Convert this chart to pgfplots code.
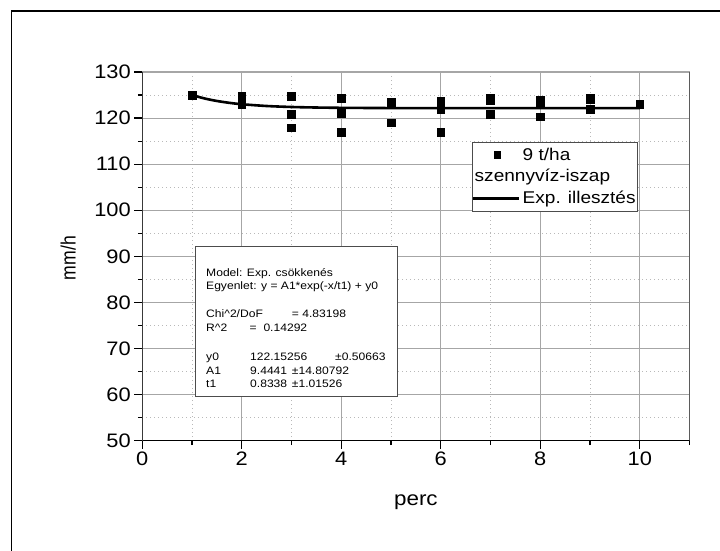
\documentclass[border=0pt]{standalone}
\usepackage{pgfplots}
\pgfplotsset{compat=1.18}
\usepackage{fontspec}
\usepackage{graphicx}
\setmainfont[FakeStretch=1.12]{Liberation Sans}
\newfontfamily\ylabfont{Liberation Sans}
\pgfplotsset{
  marklegend/.style={legend image code/.code={\draw[mark repeat=2,mark phase=2,mark size=3.4pt,##1] plot coordinates {(0pt,0pt) (22pt,0pt) (44pt,0pt)};}},
  linelegend/.style={legend image code/.code={\draw[##1] (-2pt,0pt) -- (44pt,0pt);}}
}

\begin{document}
\begin{tikzpicture}[x=1pt,y=1pt]
\useasboundingbox (0,0) rectangle (720,-551);
\fill[white] (0,0) rectangle (720,-551);
\draw[line width=1.5pt] (11.7,-551) -- (11.7,-11) -- (720,-11);
\begin{axis}[
  at={(142.3pt,-440.7pt)}, anchor=south west,
  scale only axis, width=547.2pt, height=368.7pt,
  xmin=0, xmax=11, ymin=50, ymax=130,
  xtick={0,2,4,6,8,10}, minor xtick={1,3,5,7,9,11},
  ytick={50,60,...,130}, minor ytick={55,65,...,125},
  grid=both,
  major grid style={gray!70, line width=1pt},
  minor grid style={gray!55, line width=0.9pt, dash pattern=on 1pt off 3pt},
  axis line style={gray!70, line width=1.2pt},
  tick align=outside, xtick pos=left, ytick pos=left,
  major tick length=8pt, minor tick length=4.5pt,
  tick style={black, line width=1.2pt},
  tick label style={font=\fontsize{19.5}{21}\selectfont},
  /pgf/number format/assume math mode=true,
  xlabel={perc},
  xlabel style={font=\fontsize{20}{22}\selectfont, at={(axis description cs:0.5,-0.166)}, anchor=center},
  legend style={at={(axis cs:6.62,114.88)}, anchor=north west,
    draw=gray!60!black, line width=1pt, fill=white,
    font=\fontsize{17}{19}\selectfont,
    inner xsep=0pt, inner ysep=5pt, row sep=5.7pt, column sep=0pt,
    nodes={inner xsep=2pt, inner ysep=0pt, text height=13pt, text depth=3pt},
    column 2/.style={nodes={text width=124pt}}},
  legend cell align=left,
]
\addplot[only marks, mark=square*, mark size=3.9pt, black, marklegend]
  coordinates {(1,124.9) (2,124.8) (2,123.0) (3,124.8) (3,120.9) (3,117.9)
    (4,124.3) (4,121.0) (4,117.0) (5,123.5) (5,123.1) (5,119.0)
    (6,123.7) (6,122.0) (6,117.0) (7,124.3) (7,123.9) (7,120.9)
    (8,123.9) (8,123.4) (8,120.3) (9,124.4) (9,124.0) (9,122.0) (10,123.1)};
\addlegendentry{9 t/ha}
\addlegendimage{empty legend}
\addlegendentry{\hspace{-48pt}szennyvíz-iszap}
\addplot[black, line width=2.6pt, smooth, linelegend]
  coordinates {(1,124.999) (1.25,124.262) (1.5,123.715) (1.75,123.311) (2,123.011)
    (2.5,122.624) (3,122.411) (3.5,122.295) (4,122.230) (5,122.176)
    (6,122.160) (7,122.155) (8,122.154) (10,122.153)};
\addlegendentry{Exp. illesztés}
\draw[gray!40!black, line width=1pt] (rel axis cs:1,0) -- (rel axis cs:1,1);
\draw[black, line width=1.5pt] (rel axis cs:0,1) -- (rel axis cs:0,0) -- (rel axis cs:1,0);
\end{axis}
\node[rotate=90, anchor=center, inner sep=0pt] at (68.3,-258) {\resizebox{44pt}{15pt}{\ylabfont mm/h}};
\draw[line width=1pt, gray!60!black, fill=white] (195.7,-246) rectangle (397.3,-396);
\begin{scope}[every node/.style={anchor=base west, inner sep=0pt, font=\fontsize{10.8}{12}\selectfont}]
\node at (206,-276.3) {Model: Exp. csökkenés};
\node at (206,-289.6) {Egyenlet: y = A1*exp(-x/t1) + y0};
\node at (206,-317.9) {Chi\textasciicircum 2/DoF};
\node at (291.7,-317.9) {= 4.83198};
\node at (206,-331.3) {R\textasciicircum 2};
\node at (249.3,-331.3) {=};
\node at (263.3,-331.3) {0.14292};
\node at (206,-360.3) {y0};
\node at (250,-360.3) {122.15256};
\node at (335,-360.3) {±0.50663};
\node at (206,-374.3) {A1};
\node at (250,-374.3) {9.4441};
\node at (291.7,-374.3) {±14.80792};
\node at (206,-387.6) {t1};
\node at (250,-387.6) {0.8338};
\node at (291.7,-387.6) {±1.01526};
\end{scope}
\end{tikzpicture}
\end{document}
